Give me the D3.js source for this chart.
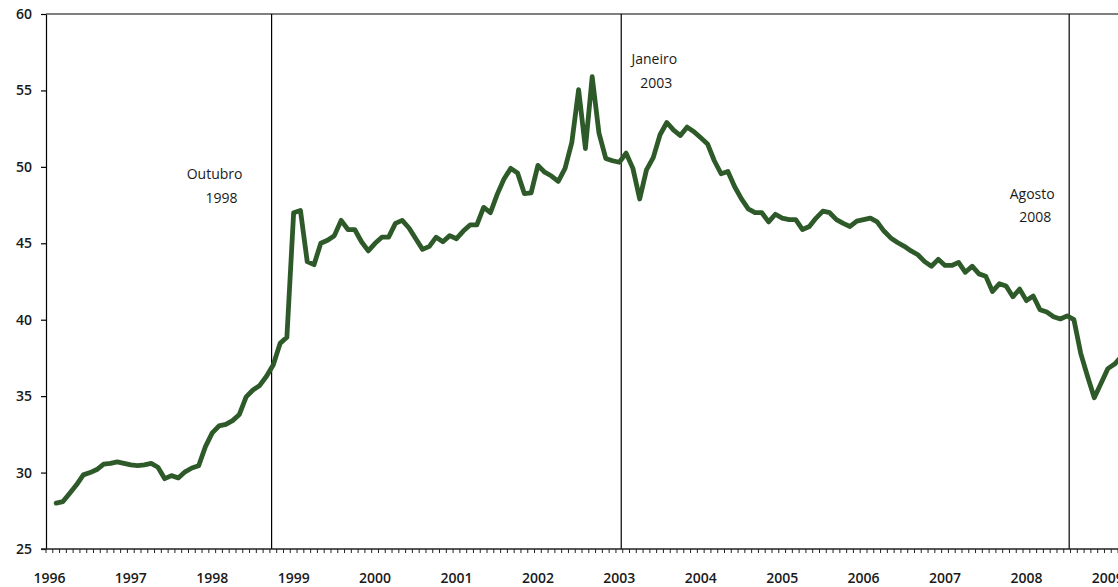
<!DOCTYPE html>
<html>
<head>
<meta charset="utf-8">
<script src="https://cdnjs.cloudflare.com/ajax/libs/d3/7.8.5/d3.min.js"></script>
<style>
  html, body { margin: 0; padding: 0; background: #fff; }
  svg { display: block; }
  text { font-family: "Open Sans", "Noto Sans", sans-serif; fill: #1a1a1a; }
</style>
</head>
<body>
<svg id="chart" width="1118" height="587"></svg>
<script>
// ---------------- DATA ----------------
// Monthly series, starting February 1996
const seriesStart = [1996, 1]; // year, month index (0 = Jan)
const values = [
  // 1996 (Feb-Dec)
  28.0, 28.1, 28.65, 29.2, 29.85, 30.0, 30.2, 30.55, 30.6, 30.7, 30.6,
  // 1997
  30.5, 30.45, 30.5, 30.6, 30.35, 29.6, 29.8, 29.65, 30.05, 30.3, 30.45, 31.7,
  // 1998
  32.6, 33.05, 33.15, 33.4, 33.8, 34.95, 35.4, 35.7, 36.3, 37.05, 38.45, 38.85,
  // 1999
  47.0, 47.15, 43.8, 43.6, 45.0, 45.2, 45.5, 46.5, 45.9, 45.9, 45.1, 44.5,
  // 2000
  45.0, 45.4, 45.4, 46.3, 46.5, 46.0, 45.3, 44.6, 44.8, 45.4, 45.1, 45.5,
  // 2001
  45.3, 45.8, 46.2, 46.2, 47.35, 47.0, 48.2, 49.2, 49.9, 49.6, 48.25, 48.3,
  // 2002
  50.1, 49.65, 49.4, 49.05, 49.9, 51.6, 55.05, 51.2, 55.9, 52.2, 50.55, 50.4,
  // 2003
  50.3, 50.9, 49.9, 47.9, 49.8, 50.6, 52.1, 52.9, 52.4, 52.05, 52.6, 52.3,
  // 2004
  51.9, 51.5, 50.4, 49.55, 49.7, 48.7, 47.9, 47.25, 47.0, 47.0, 46.4, 46.9,
  // 2005
  46.65, 46.55, 46.55, 45.9, 46.1, 46.65, 47.1, 47.0, 46.55, 46.3, 46.1, 46.45,
  // 2006
  46.55, 46.65, 46.4, 45.8, 45.35, 45.05, 44.8, 44.5, 44.25, 43.8, 43.5, 43.95,
  // 2007
  43.55, 43.55, 43.75, 43.1, 43.5, 43.0, 42.85, 41.85, 42.35, 42.2, 41.5, 42.0,
  // 2008
  41.25, 41.55, 40.65, 40.5, 40.2, 40.05, 40.25, 40.0, 37.8, 36.3, 34.9, 35.85,
  // 2009
  36.8, 37.1, 37.6
];
const axisYears = [1996, 1997, 1998, 1999, 2000, 2001, 2002, 2003, 2004, 2005, 2006, 2007, 2008, 2009];
const yTicks = [25, 30, 35, 40, 45, 50, 55, 60];
const events = [
  { year: 1998, month: 9, lines: ["Outubro", "1998"] },
  { year: 2003, month: 0, lines: ["Janeiro", "2003"] },
  { year: 2008, month: 7, lines: ["Agosto", "2008"] }
];

// ---------------- LAYOUT ----------------
const W = 1118, H = 587;
const plot = { left: 46, top: 14, bottom: 549 };
const monthStep = 6.785;
const axisStart = new Date(1996, 0, 1), axisEnd = new Date(2010, 0, 1);
// per-event: fraction of the month band where the marker line sits, and label offsets
const eventLayout = [
  { frac: 0.25, dx: [-57, -50], dy: [174, 198] },
  { frac: 0.78, dx: [33, 35], dy: [59, 83] },
  { frac: -0.2, dx: [-37, -34], dy: [194, 217] }
];
const lineColor = "#2e5a2a";

// ---------------- SCALES ----------------
const months = d3.timeMonth.range(axisStart, axisEnd);
const keyOf = (y, m) => y * 12 + m;
const x = d3.scaleBand()
  .domain(months.map(d => keyOf(d.getFullYear(), d.getMonth())))
  .range([plot.left, plot.left + months.length * monthStep])
  .paddingInner(0).paddingOuter(0);
const cx = k => x(k) + x.bandwidth() / 2;
const y = d3.scaleLinear().domain([25, 60]).range([plot.bottom, plot.top]);

const data = values.map((v, i) => ({ key: keyOf(seriesStart[0], seriesStart[1]) + i, value: v }));

const svg = d3.select("#chart");

// top border
svg.append("line")
  .attr("x1", plot.left).attr("x2", W + 5)
  .attr("y1", y(60)).attr("y2", y(60))
  .attr("stroke", "#000").attr("stroke-width", 1.2);

// event vertical lines
const evX = (d, i) => x(keyOf(d.year, d.month)) + eventLayout[i].frac * x.bandwidth();
svg.selectAll("line.event").data(events).enter().append("line")
  .attr("class", "event")
  .attr("x1", evX).attr("x2", evX)
  .attr("y1", y(60)).attr("y2", y(25))
  .attr("stroke", "#000").attr("stroke-width", 1.2);

// event labels
events.forEach((ev, i) => {
  const lx = evX(ev, i);
  ev.lines.forEach((t, j) => {
    svg.append("text")
      .attr("x", lx + eventLayout[i].dx[j])
      .attr("y", eventLayout[i].dy[j])
      .attr("dy", "0.35em")
      .attr("text-anchor", "middle")
      .attr("font-size", 14)
      .text(t);
  });
});

// Y axis
const yAxis = d3.axisLeft(y).tickValues(yTicks).tickSize(5).tickSizeOuter(0).tickPadding(9);
const gy = svg.append("g").attr("transform", `translate(${plot.left},0)`).call(yAxis);
gy.select(".domain").attr("stroke", "#000").attr("stroke-width", 1.2);
gy.selectAll(".tick line").attr("stroke", "#000").attr("stroke-width", 1.2);
gy.selectAll(".tick text").attr("font-size", 14).attr("font-weight", 600)
  .attr("font-family", "'Open Sans', sans-serif").attr("fill", "#1a1a1a");

// X axis: baseline + monthly ticks at category boundaries
svg.append("line")
  .attr("x1", plot.left - 5).attr("x2", W + 5)
  .attr("y1", y(25)).attr("y2", y(25))
  .attr("stroke", "#222").attr("stroke-width", 1.5);
const boundaries = x.domain().map(k => x(k));
svg.selectAll("line.mtick").data(boundaries).enter().append("line")
  .attr("class", "mtick")
  .attr("x1", d => d).attr("x2", d => d)
  .attr("y1", y(25)).attr("y2", y(25) + 4)
  .attr("stroke", "#222").attr("stroke-width", 1);
svg.selectAll("text.xlab").data(axisYears).enter().append("text")
  .attr("class", "xlab")
  .attr("x", d => cx(keyOf(d, 0)))
  .attr("y", 578)
  .attr("dy", "0.35em")
  .attr("text-anchor", "middle")
  .attr("font-size", 14).attr("font-weight", 600)
  .text(d => d);

// series line
const line = d3.line().x(d => cx(d.key)).y(d => y(d.value)).curve(d3.curveLinear);
svg.append("path").datum(data)
  .attr("d", line)
  .attr("fill", "none")
  .attr("stroke", lineColor)
  .attr("stroke-width", 4.8)
  .attr("stroke-linejoin", "round")
  .attr("stroke-linecap", "round");
</script>
</body>
</html>
